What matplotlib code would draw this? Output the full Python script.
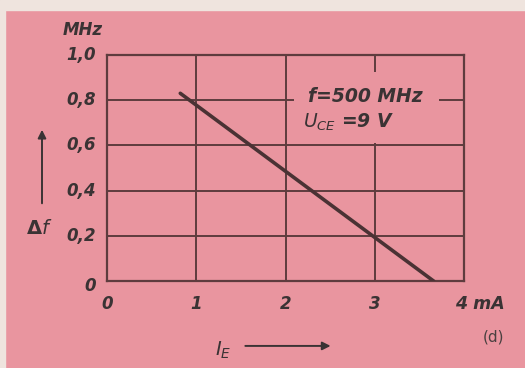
import matplotlib
matplotlib.use("Agg")
import matplotlib.pyplot as plt
from matplotlib.patches import Rectangle

# frequency shift vs emitter current (f = 500 MHz, U_CE = 9 V)
ie_ma = [0.82, 3.66]
df_mhz = [0.83, 0.0]

x_ticks = [0, 1, 2, 3, 4]
x_labels = ["0", "1", "2", "3", "4 mA"]
y_ticks = [0, 0.2, 0.4, 0.6, 0.8, 1.0]
y_labels = ["0", "0,2", "0,4", "0,6", "0,8", "1,0"]

PINK = "#e9959f"
INK = "#5e3c3e"
TXT = "#3a3334"
font = dict(family="DejaVu Sans", style="italic", weight="bold", color=TXT)

fig = plt.figure(figsize=(5.25, 3.68), dpi=100, facecolor=PINK)
# pale paper edge along the top and left
fig.patches.append(Rectangle((0, 0.973), 1, 0.027, transform=fig.transFigure,
                             color="#efe4de", zorder=0))
fig.patches.append(Rectangle((0, 0), 0.009, 1, transform=fig.transFigure,
                             color="#efe4de", zorder=0))

ax = fig.add_axes([0.204, 0.236, 0.680, 0.615])
ax.set_facecolor(PINK)
ax.set_xlim(0, 4)
ax.set_ylim(0, 1.0)
for s in ax.spines.values():
    s.set_color(INK)
    s.set_linewidth(1.6)

for x in x_ticks[1:-1]:
    ax.axvline(x, color=INK, lw=1.4, zorder=1)
for y in y_ticks[1:-1]:
    ax.axhline(y, color=INK, lw=1.4, zorder=1)

ax.plot(ie_ma, df_mhz, color="#4a3234", lw=2.6, zorder=3, solid_capstyle="round")

ax.set_xticks(x_ticks)
ax.set_yticks(y_ticks)
ax.set_xticklabels([])
ax.set_yticklabels([])
ax.tick_params(length=0)

for x, lab in zip(x_ticks, x_labels):
    ha = "left" if lab.endswith("mA") else "center"
    xo = x - 0.1 if lab.endswith("mA") else x
    size = 12.5 if lab.endswith("mA") else 12
    ax.text(xo, -0.1, lab, ha=ha, va="center", fontsize=size, **font)
for y, lab in zip(y_ticks, y_labels):
    ax.text(-0.12, y - 0.02 if y == 0 else y, lab, ha="right", va="center",
            fontsize=12, **font)
ax.text(-0.05, 1.11, "MHz", ha="right", va="center", fontsize=12, **font)

# parameter box masks the grid behind it
ax.add_patch(Rectangle((2.09, 0.61), 1.63, 0.315, facecolor=PINK, edgecolor="none", zorder=2))
ax.text(2.25, 0.815, "f=500 MHz", ha="left", va="center", fontsize=13.5, zorder=4, **font)
ax.text(2.2, 0.70, "$U_{CE}$ =9 V", ha="left", va="center", fontsize=13.5, zorder=4, **font)

# axis quantity labels with arrows
fig.text(0.075, 0.38, r"$\mathbf{\Delta} f$", ha="center", va="center", fontsize=14, color=TXT)
ax.annotate("", xy=(0.080, 0.655), xytext=(0.080, 0.44), xycoords="figure fraction",
            arrowprops=dict(arrowstyle="-|>", color=TXT, lw=1.4, mutation_scale=12))
fig.text(0.425, 0.048, r"$I_E$", ha="center", va="center", fontsize=14, color=TXT)
ax.annotate("", xy=(0.635, 0.06), xytext=(0.462, 0.06), xycoords="figure fraction",
            arrowprops=dict(arrowstyle="-|>", color=TXT, lw=1.4, mutation_scale=12))
fig.text(0.94, 0.084, "(d)", ha="center", va="center", fontsize=11, color="#4a4040")

fig.savefig("out.png", dpi=100, facecolor=PINK)
